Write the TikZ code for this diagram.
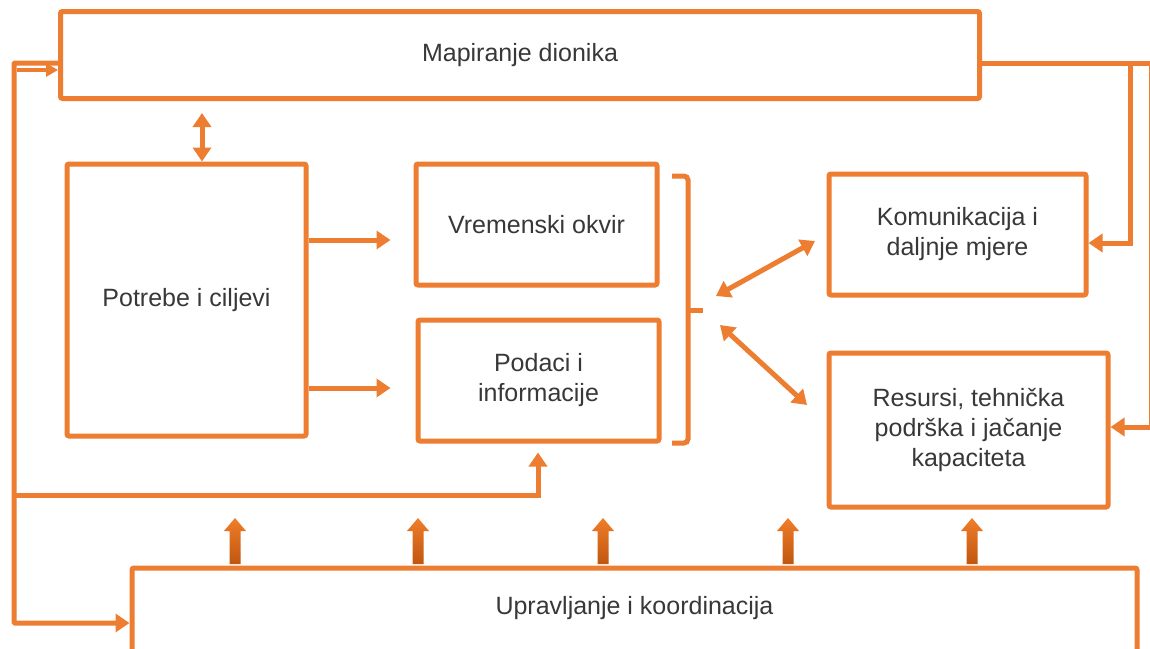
\documentclass[tikz,border=0pt]{standalone}
\usepackage{fontspec}
\setmainfont{Liberation Sans}
\usetikzlibrary{arrows.meta}
\definecolor{boxOrange}{HTML}{ED7D31}
\definecolor{textGrey}{HTML}{383838}
\definecolor{arrowDark}{HTML}{C0560F}
\begin{document}
\begin{tikzpicture}
[x=1pt,y=-1pt,
  boxDecorate/.style={draw=boxOrange,line width=5pt,rounded corners=2pt,fill=white,
    text=textGrey,align=center,inner sep=0pt,font=\fontsize{25}{30}\selectfont},
  lineDecorate/.style={draw=boxOrange,line width=5pt},
  arrowDecorate/.style={lineDecorate,-{Triangle[width=18pt,length=14pt]}},
  dblDecorate/.style={lineDecorate,{Triangle[width=18pt,length=14pt]}-{Triangle[width=18pt,length=14pt]}}]
\useasboundingbox (0,0) rectangle (1150,648);
\clip (0,0) rectangle (1150,648);
\fill[white] (0,0) rectangle (1150,648);
%% boxes
\foreach \nodename/\x/\y/\w/\h/\txt in {
  map/520/55/919/87/{Mapiranje dionika},
  pot/186.5/300/239/272/{Potrebe i ciljevi},
  vre/536.5/224.5/241/121/{Vremenski okvir},
  pod/538.5/380.5/241/121/{Podaci i\\informacije},
  kom/957.5/234.5/257/121/{Komunikacija i\\daljnje mjere},
  res/968.5/430/279/154/{Resursi, tehnička\\podrška i jačanje\\kapaciteta}}
{
  \node (\nodename) at (\x,\y) [boxDecorate,minimum width=\w,minimum height=\h] {\txt};
}
\node (upr) at (634.5,614) [boxDecorate,anchor=base,minimum width=1005,
  text height=46pt,text depth=60pt] {Upravljanje i koordinacija};
%% free ends
\coordinate (leftBranch) at (14,495);
\coordinate (rightDrop) at (1151,63);
\coordinate (komDrop) at (1130,63);
\coordinate (hubUp) at (716,296);
\coordinate (hubDown) at (720,325);
\coordinate (komEnd) at (815,241);
\coordinate (resEnd) at (807,405);
%% brace
\draw[lineDecorate,rounded corners=4pt] (672,176) -| (688,443) -- (672,443);
\draw[lineDecorate] (688,310) -- (703,310);
%% connectors
\draw[arrowDecorate,rounded corners=1pt] (map.west |- 0,63) -| (14,623) -- (upr.west |- 0,623);
\draw[lineDecorate,line width=3.5pt,-{Triangle[width=13pt,length=12pt]}] (17,70) -- (map.west |- 0,70);
\draw[arrowDecorate,shorten >=9pt] (leftBranch) -| (pod.south -| 538,0);
\draw[dblDecorate,shorten <=12pt] (map.south -| 202,0) -- (pot.north -| 202,0);
\draw[arrowDecorate,shorten >=23pt] (pot.east |- 0,240) -- (vre.west |- 0,240);
\draw[arrowDecorate,shorten >=25pt] (pot.east |- 0,388) -- (pod.west |- 0,388);
\draw[dblDecorate] (hubUp) -- (komEnd);
\draw[dblDecorate] (hubDown) -- (resEnd);
\draw[lineDecorate] (map.east |- 0,63) -- (rightDrop);
\draw[arrowDecorate] (komDrop) |- (kom.east |- 0,243);
\draw[arrowDecorate] (rightDrop) |- (res.east |- 0,427);
%% block arrows
\foreach \x in {235,418,603,788,972}
{
  \shade[top color=boxOrange!85!orange,bottom color=arrowDark]
    (\x-5.5,564) -- (\x-5.5,531) -- (\x-11,531) -- (\x,518) -- (\x+11,531)
    -- (\x+5.5,531) -- (\x+5.5,564) -- cycle;
}
\end{tikzpicture}
\end{document}
